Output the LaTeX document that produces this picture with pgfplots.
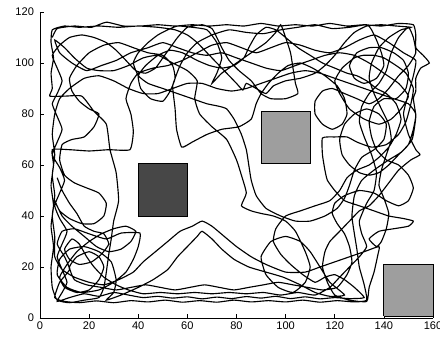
\documentclass[border=0pt]{standalone}
\usepackage{fontspec}
\setmainfont{Liberation Sans}
\usepackage{pgfplots}
\pgfplotsset{compat=1.18}
\begin{document}
\begin{tikzpicture}
\begin{axis}[
  name=ax,
  scale only axis,
  width=294.75pt, height=229.5pt,
  xmin=0, xmax=160, ymin=0, ymax=120,
  axis x line=bottom, axis y line=left,
  axis line style={-, line width=0.6pt},
  tick align=inside,
  major tick length=3pt,
  tick style={black, line width=0.5pt},
  xtick={0,20,...,160}, ytick={0,20,...,120},
  /pgf/number format/assume math mode=true,
  tick label style={font=\fontsize{8.3}{9}\selectfont},
  xticklabel style={yshift=1pt},
  yticklabel style={xshift=-1pt},
  clip=false,
]
\addplot[black, line width=0.85pt, smooth, tension=0.3] coordinates {
(5,110) (7,113.5) (14,114.5) (21,114) (27,116) (34,114.5) (41,114.5) (48,115) (55,114.5) (62,115) (69,114.5) (76,115) (83,114.5) (90,115.5) (97,114.5) (104,115) (111,114.5) (118,115.5) (125,114.5) (132,115) (139,114.5) (146,115.5) (152,115)
(153,111) (153,106) (156,103) (158.5,100) (155,98) (153,94) (153,89) (152,86)
(153,79) (151.5,70) (147,65) (142,62) (136,58) (131,54) (128,48) (127,40) (128,33) (129,27) (130,20) (132,13) (133,7)
(128,6.3) (121,6.8) (114,6.2) (107,7) (100,6.3) (93,6.8) (86,6.3) (79,7) (72,6.2) (65,6.8) (58,6.2) (51,7) (44,6.3) (37,6.8) (30,6) (23,6.7) (16,6) (10,6.5) (6,8)
(8,14) (12,19) (10,24) (7,29) (9,34) (14,35) (20,33) (27,31) (33,33.3) (40.7,33.3) (40,28) (38,23) (35,18) (30,14) (24,11) (17,10) (11,12) (7,17) (8,23) (12,27) (18,28) (24,26) (29,22) (31,15) (30,10) (27,7)
(33,9) (40,12) (46,15) (52,19) (56,24) (60,28) (64,32) (66,34) (70,31) (74,27) (79,23) (85,20) (92,18) (99,16) (106,13) (112,10) (118,8.5) (124,9)
(118,14) (114,20) (110,26) (106,30) (100,32) (94,30) (90,24) (92,17) (97,12) (103,10) (108,14) (110,20) (108,26) (104,34) (100,38) (95,40) (90,41)
(86,42) (82,44) (84,49) (82,56) (80,62) (76,70) (70,75) (65,80) (63,86) (64,93)
(60,97) (54,100) (48,103) (42,102) (36,99) (30,97) (24,97) (19,98) (14,102) (10,106) (6,109)
(8,104) (13,100) (19,97) (25,99) (31,101) (37,104) (44,106) (50,108) (56,106) (62,104) (68,103) (74,104) (80,102) (86,100) (92,98) (98,97) (104,99) (110,101) (116,103) (122,104) (128,103) (134,100) (140,96) (146,92) (150,87)
(147,82) (143,78) (138,76) (132,78) (126,82) (122,88) (120,93) (123,98) (128,102) (131.5,103) (136,103) (140,102) (145,99) (149,96) (152,90) (151,84) (149,77) (146,72) (141,68) (135,67) (129,69) (125,71) (120,71) (115,70.6) (115,64) (116,58) (117,54)
(120,50) (124,46) (130,44) (136,42) (142,40) (148,39) (152,38) (150,36) (144,35) (138,34) (134,31) (137,28) (139,30) (141,35) (142,41) (140,47) (138,52) (139,58)
(141,64) (143,70) (142,76) (139,82) (136,88) (134,94) (135,100) (138,106) (142,110) (147,113) (151,114)
(145,114.5) (139,115) (133,114.5) (128,112) (124,108) (120,103) (116,99) (112,96) (106,94) (100,93) (95,91) (92,88) (88,90) (84,92) (82.6,89.4) (80,92) (76,96) (72,100) (68,104) (64,108) (60,111) (55,113) (48,114) (40,114.5) (32,114) (24,114.5) (16,114) (10,114.5) (5,113)
(4.5,108) (5.5,102) (4.5,96) (5,90) (4,87) (10,87) (17,87) (22,81) (27,76) (28.5,66) (31,57) (32,46) (30,38) (29,31) (28,25) (27,18) (26,12) (24,8)
(18,7) (12,6) (7,7) (5,12) (4.5,20) (5.5,28) (4.5,36) (5.5,44) (4.5,52) (5.5,60) (5,66) (12,66) (20,65.5) (28,66) (36.6,66) (38,73) (37,80) (35,86) (37,92) (40,96) (46,98) (52,99)
(58,101) (64,104) (70,107) (76,108) (82,106) (88,104) (94,106) (100,108) (106,107) (112,105) (118,104) (124,106) (130,109) (136,111) (142,108) (148,104) (153,101)
(152,95) (150,88) (148,80) (150,72) (153,66) (154.7,64) (151,62) (146,58) (142,53) (138,48) (134,44) (130,42) (126,38) (122,34) (118,30) (116,26) (115,20) (117,14) (120,9) (126,7) (133,6.5) (134,12) (136,18) (137.6,25) (138,28)
(132,26) (126,24) (120,22) (114,20) (108,18) (100,18) (92,21) (86,24) (80,28) (75,32) (70,36) (66,38) (62,36) (57,34) (52,30) (47,26) (42,22) (38,18) (32,15) (26,13) (20,14) (14,16) (9,19) (6,24)
(6,32) (5,40) (6,48) (5,56) (6,64) (5,72) (6,80) (8,86) (12,90) (18,94) (24,95) (30,93) (36,90) (42,88) (48,88) (54,90) (60,92) (66,92) (72,90) (78,89) (84,90) (90,92) (96,94) (102,96) (108,97) (114,96) (120,94) (126,92) (132,90) (138,88) (144,86) (150,84) (153,80)
(152,74) (150,68) (146,64) (142,60) (138,57) (134,56) (130,57) (126,60) (123,64) (122,70) (124,76) (128,80) (133,82) (138,80) (141,76) (140,70) (136,66) (131,63) (128,58) (126,52) (124,47) (121,43) (116,40) (110,38) (104,38) (98,40) (92,43) (88,48) (86,54) (85,60)
(84,66) (82,72) (79,78) (76,82) (73,83) (68,84) (62,86) (56,88) (50,90) (44,92) (40,95) (38,100) (40,104) (44,108) (48,111) (52,113) (56,114.5)
(62,114) (68,113) (72,108) (74,102) (72,96) (70,92) (74,96) (80,100) (86,104) (92,108) (96,112) (98,115) (100,110) (102,104) (103,98) (104,92) (105,88) (100,86) (94,86) (90,88)
(86,93) (81,97) (77,101) (74,106) (72,110) (70,113.5) (66,115) (60,114) (56,110) (53,106) (50,102) (47,98) (43,96) (39,97) (35,101) (31,105) (27,108) (22,110) (17,111) (12,110) (8,107) (5,103)
(7,98) (9,93) (7,88) (5,84) (7,79) (9,74) (7,69) (5,64) (8,59) (10,54) (8,49) (6,44) (8,39) (11,34) (9,29) (7,24) (9,19) (11,14) (9,10) (7,6.5)
(12,8) (18,9.5) (24,8.5) (30,10) (36,9) (42,8) (48,8.5) (54,7.8) (60,8.3) (66,7.5) (72,8.2) (78,7.6) (84,8.4) (90,7.8) (96,8.5) (102,7.6) (108,8.3) (114,7.5) (120,8) (126,7.6) (132,8)
(128,12) (124,15) (120,17) (116,16) (112,14) (107,17) (102,21) (98,25) (95,30) (96,35) (100,40) (106,42) (112,44) (118,46) (122,50) (125,55) (129,58) (134,60) (138,63) (142,67) (145,72) (147,78) (145,84) (141,88) (137,90) (133,93) (129,95) (125,96)
(120,98) (115,100) (110,103) (105,106) (100,110) (96,113) (92,114) (88,111) (85,106) (83,102) (79,99) (74,98) (69,99) (64,101) (58,104) (53,105) (48,103) (43,99) (40,95) (41,90) (45,86) (50,85) (53,89) (55,94) (54,99) (50,103) (44,104) (38,106) (32,108) (26,107) (20,104) (15,99) (12,94) (13,89) (16,85) (20,82) (24,80)
(22,75) (18,71) (13,70) (9,68) (8,62) (10,56) (14,53) (19,51) (24,49) (27,45) (26,40) (22,37) (17,37) (12,39) (8,42) (6,46)
(9,40) (13,36) (18,32) (23,28) (28,26) (33,27) (37,30) (39,34) (35,36) (30,35) (25,33) (20,30) (15,26) (11,21) (8,16) (10,12) (15,10) (20,11) (24,15) (26,20) (24,24) (20,26) (15,24) (12,20) (14,15) (19,13) (25,12) (31,11) (37,12) (43,13) (49,12) (55,11) (61,12) (67,13) (73,12) (79,11) (85,12) (91,13) (97,14) (103,13) (109,12) (115,11)
(121,12) (125,17) (127,22) (126,28) (124,33) (121,37) (119,41) (120,45) (124,48) (130,50) (136,49) (141,46) (146,44) (150,46) (152,51) (150,56) (146,60) (141,62) (137,66) (135,71) (134,77) (136,83) (140,86) (145,86) (149,90) (150,96) (148,101) (144,104) (139,106) (134,106) (129,104) (126,99) (128,94) (132,92) (137,94) (140,99) (139,104) (137,109) (135,113) (133,115)
(126,114) (119,113.5) (112,115) (105,114) (98,113) (91,111.5) (84,112) (77,113) (70,111) (64,108) (60,104) (57,99) (55,94) (54,90.7) (55,82) (55.6,74) (57.7,67) (62,69) (68,72) (74,74) (81,75) (86,78) (88,84) (90,88)
(93,92) (97,96) (101,99) (106,100) (111,98) (116,95) (121,91) (124,86) (125,80) (123,76) (119,74) (115,76) (112,80) (112,85) (115,89) (119,90) (124,88) (129,86) (134,84) (138,86) (142,90) (146,95) (150,99) (153,104) (152,110) (150,114)
(146,110) (143,104) (141,97) (138,92) (134,88) (131,83) (130,77) (132,71) (135,64) (137,57) (136,50) (133,45) (130,38) (131,33) (133,28) (130,24) (126,20) (122,16) (118,12) (112,9) (105,10) (98,9) (91,10) (84,9.5) (77,10) (70,9.5) (63,10) (56,9.5) (49,10) (42,9.5) (36,11) (31,13) (26,16) (22,20) (19,24) (16,29) (13,31) (10,27) (12,23) (16,21) (21,22) (25,25) (28,29) (26,33) (22,34) (18,36) (15,41) (12,45) (9,50) (7,55)
};
\addplot[draw=black, line width=0.6pt, fill=black!72] coordinates {(40,40) (60,40) (60,60.5) (40,60.5) (40,40)};
\addplot[draw=black, line width=0.6pt, fill=black!38] coordinates {(90,60.5) (110,60.5) (110,81) (90,81) (90,60.5)};
\addplot[draw=black, line width=0.6pt, fill=black!38] coordinates {(140,0.8) (160,0.8) (160,21) (140,21) (140,0.8)};
\end{axis}
\pgfresetboundingbox
\path[use as bounding box] ([shift={(-30pt,-15pt)}]ax.south west) rectangle ([shift={(5.25pt,9pt)}]ax.north east);
\end{tikzpicture}
\end{document}
